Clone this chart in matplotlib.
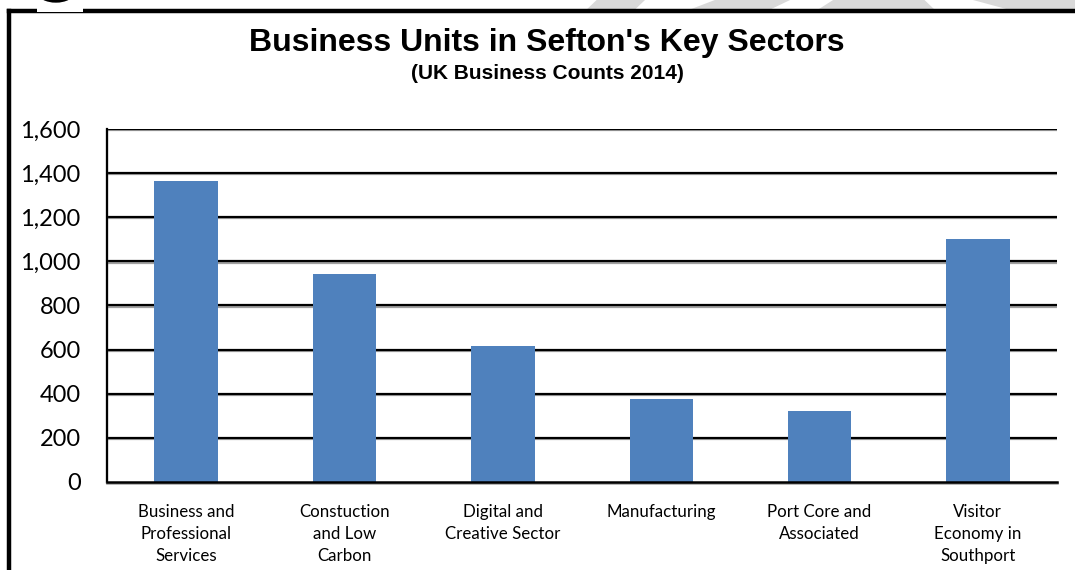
import matplotlib.pyplot as plt
import matplotlib.patheffects as pe
from matplotlib.patches import Polygon, Rectangle, Circle
from matplotlib.lines import Line2D
from matplotlib.ticker import FuncFormatter

# Business units by key sector, UK Business Counts 2014
sectors = [
    "Business and\nProfessional\nServices",
    "Constuction\nand Low\nCarbon",
    "Digital and\nCreative Sector",
    "Manufacturing",
    "Port Core and\nAssociated",
    "Visitor\nEconomy in\nSouthport",
]
units = [1365, 943, 616, 376, 322, 1101]
y_ticks = [0, 200, 400, 600, 800, 1000, 1200, 1400, 1600]

bar_color = "#4f81bd"
label_font = ["Lato", "DejaVu Sans"]
title_font = ["Liberation Sans", "DejaVu Sans"]

fig = plt.figure(figsize=(10.75, 5.7), dpi=100)
ax = fig.add_axes([0.0995, 0.1544, 0.8838, 0.6193])

# faint background shapes along the top edge
for pts in [
    [(0.665, 1.0), (0.735, 1.0), (0.715, 0.982), (0.64, 0.982)],
    [(0.775, 1.0), (0.86, 1.0), (0.87, 0.982), (0.76, 0.982)],
    [(0.905, 1.0), (1.0, 1.0), (1.0, 0.982), (0.94, 0.982)],
    [(0.555, 1.0), (0.6, 1.0), (0.59, 0.982), (0.545, 0.982)],
]:
    fig.add_artist(Polygon(pts, closed=True, transform=fig.transFigure,
                           facecolor="#d9d9d9", edgecolor="none", zorder=0))

# outer frame (left and top)
fig.add_artist(Line2D([0.0088, 0.0088], [0.0, 0.981], transform=fig.transFigure,
                      color="black", lw=3.2, solid_capstyle="projecting"))
fig.add_artist(Line2D([0.0088, 1.0], [0.981, 0.981], transform=fig.transFigure,
                      color="black", lw=3.2, solid_capstyle="projecting"))
# small logo tab on the frame
fig.add_artist(Rectangle((0.034, 0.979), 0.043, 0.03, transform=fig.transFigure,
                         facecolor="white", edgecolor="none", zorder=3))
fig.add_artist(Circle((0.052, 1.014), 0.016, transform=fig.transFigure,
                      facecolor="none", edgecolor="black", lw=2.2, zorder=4))

x = range(len(sectors))
ax.bar(x, units, width=0.4, color=bar_color, zorder=3)

ax.set_xlim(-0.5, len(sectors) - 0.5)
ax.set_ylim(0, 1600)
ax.set_yticks(y_ticks)
ax.yaxis.set_major_formatter(FuncFormatter(lambda v, p: f"{int(v):,}"))
ax.set_xticks(list(x))
ax.set_xticklabels(sectors, fontfamily=label_font, fontsize=12.2, linespacing=1.45)

ax.tick_params(axis="y", length=0, pad=19, labelsize=17)
ax.tick_params(axis="x", length=0, pad=16)
for lbl in ax.get_yticklabels():
    lbl.set_fontfamily(label_font)

shadow = [pe.SimpleLineShadow(offset=(0.3, -0.9), shadow_color="#a0a0a0", alpha=1), pe.Normal()]
for v in y_ticks[1:]:
    ax.axhline(v, color="black", lw=1.6, zorder=1, path_effects=shadow)

for side in ["top", "right"]:
    ax.spines[side].set_visible(False)
ax.spines["left"].set_linewidth(1.6)
ax.spines["bottom"].set_linewidth(1.8)
ax.spines["left"].set_path_effects(shadow)
ax.spines["bottom"].set_path_effects(shadow)
ax.spines["bottom"].set_zorder(4)

fig.text(0.509, 0.925, "Business Units in Sefton's Key Sectors", ha="center", va="center",
         fontsize=23, fontweight="bold", fontfamily=title_font)
fig.text(0.509, 0.871, "(UK Business Counts 2014)", ha="center", va="center",
         fontsize=15, fontweight="bold", fontfamily=title_font)

fig.savefig("out.png", dpi=100)
